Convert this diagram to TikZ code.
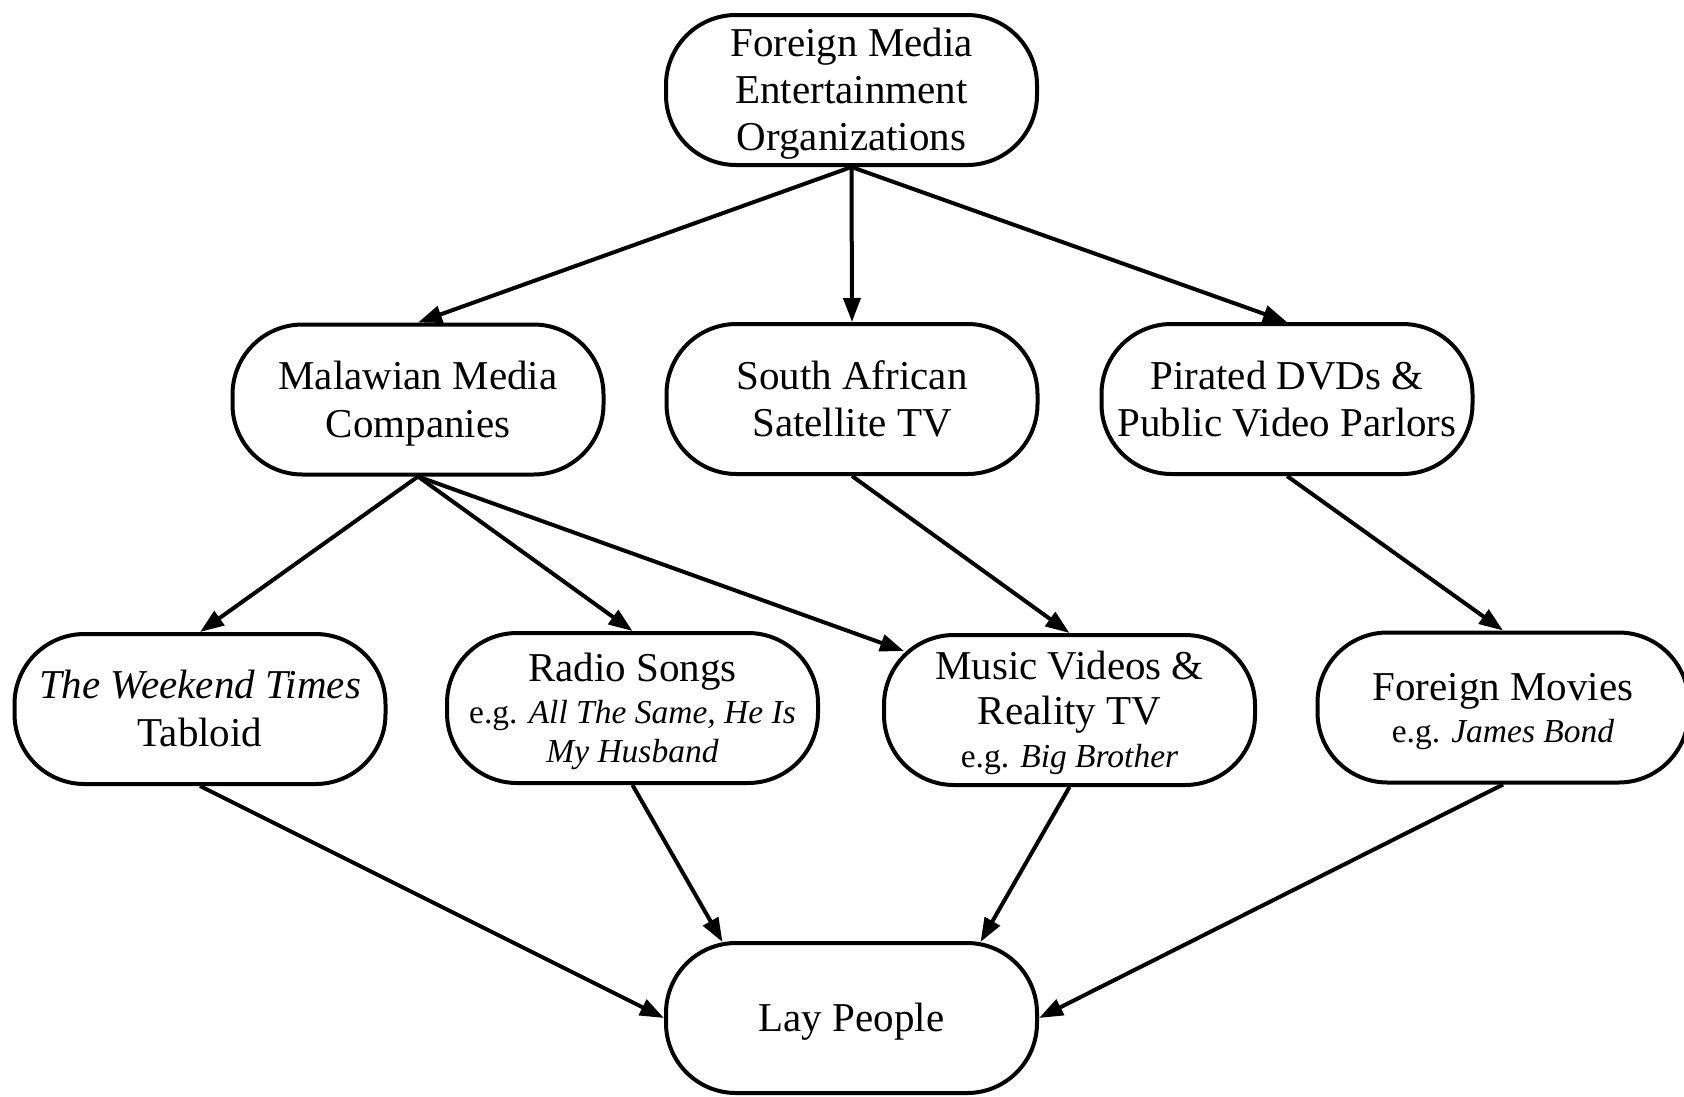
\documentclass[tikz,border=0pt]{standalone}
\usepackage{fontspec}
\setmainfont{Liberation Serif}
\usetikzlibrary{arrows.meta}
\newcommand\egs{\fontsize{33.5}{40}\selectfont}
\newcommand\tb[1]{\setbox0=\hbox{\begin{tabular}[b]{@{}c@{}}#1\end{tabular}}\ht0=\dimexpr\ht0-5.8pt\relax\dp0=0pt\box0}
\begin{document}
\begin{tikzpicture}[x=1pt,y=-1pt,
  box/.style={draw, line width=4pt, rounded corners=70pt, minimum width=371pt, minimum height=150pt, inner sep=0pt, font=\fontsize{41}{47}\selectfont},
  conn/.style={line width=4pt, -{Triangle[length=24pt,width=17pt]}}]
\useasboundingbox (0,0) rectangle (1684,1096);
\node[box] (top) at (851.5,90) {\tb{Foreign Media\\Entertainment\\Organizations}};
\node[box] (mal) at (418,399.5) {\tb{Malawian Media\\[1pt]Companies}};
\node[box] (sat) at (852,399) {\tb{South African\\Satellite TV}};
\node[box] (pir) at (1287,399) {\tb{Pirated DVDs \&\\Public Video Parlors}};
\node[box] (wkd) at (200,709) {\tb{\textit{The Weekend Times}\\[1pt]Tabloid}};
\node[box] (rad) at (632.5,708) {\tb{Radio Songs\\[-5pt]\egs e.g. \textit{All The Same, He Is}\\[-8pt]\egs\textit{My Husband}}};
\node[box] (mus) at (1069.5,710) {\tb{Music Videos \&\\[-2pt]Reality TV\\[-4pt]\egs e.g. \textit{Big Brother}}};
\node[box] (mov) at (1503,707.5) {\tb{Foreign Movies\\[-5pt]\egs e.g. \textit{James Bond}}};
\node[box] (lay) at (851.5,1018) {\tb{Lay People}};
\draw[conn] (top.south) -- (mal.north);
\draw[conn] (top.south) -- (sat.north);
\draw[conn] (top.south) -- (pir.north);
\draw[conn] (mal.south) -- (wkd.north);
\draw[conn] (mal.south) -- (rad.north);
\draw[conn] (mal.south) -- ([xshift=22pt,yshift=-18pt]mus.north west);
\draw[conn] (sat.south) -- (mus.north);
\draw[conn] (pir.south) -- (mov.north);
\draw[conn] (wkd.south) -- (lay.west);
\draw[conn] (rad.south) -- ([xshift=-129pt,yshift=-1pt]lay.north);
\draw[conn] (mus.south) -- ([xshift=129pt,yshift=-1pt]lay.north);
\draw[conn] (mov.south) -- (lay.east);
\end{tikzpicture}
\end{document}
